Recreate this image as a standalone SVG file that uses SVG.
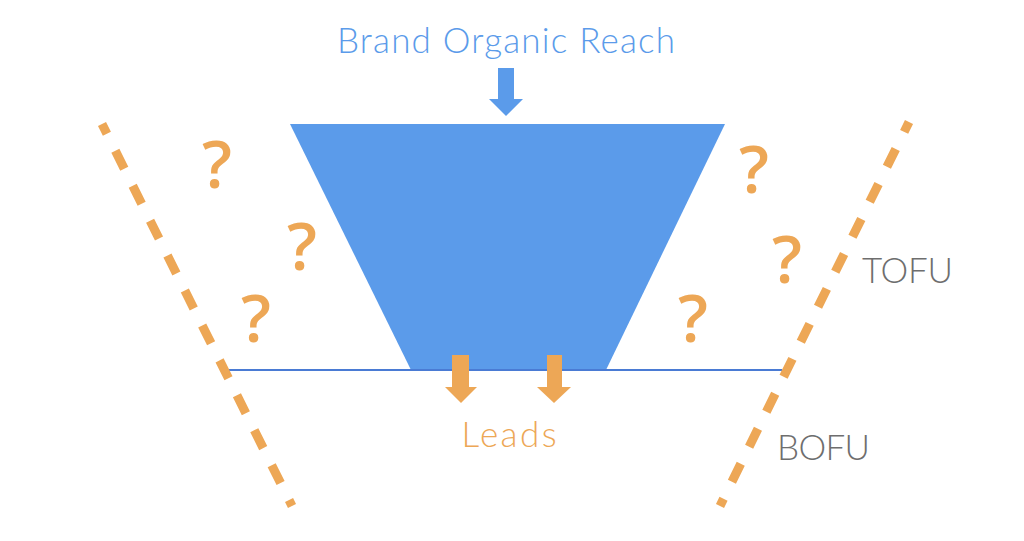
<svg xmlns="http://www.w3.org/2000/svg" width="1024" height="541" viewBox="0 0 1024 541">
<style>
.dash{stroke:#eda756;stroke-width:9;stroke-dasharray:20 19;fill:none}
.q{font-family:"Open Sans","Liberation Sans",sans-serif;font-size:66px;fill:#eda756;text-anchor:middle;font-weight:600}
.lab{font-family:"Lato","Liberation Sans",sans-serif;font-weight:300;font-size:35px}
.gray{fill:#6e6e6e}
</style>
<rect width="1024" height="541" fill="#ffffff"/>
<g id="funnel">
<polygon points="290,124 725,124 606,370 411,370" fill="#5b9bea"/>
</g>
<g id="connectors">
<line x1="229" y1="370" x2="782" y2="370" stroke="#4a7bd4" stroke-width="2"/>
<line class="dash" x1="102" y1="124" x2="292" y2="506" stroke-dashoffset="9"/>
<line class="dash" x1="909" y1="122" x2="720" y2="506" stroke-dashoffset="9"/>
<polygon points="498,68 514,68 514,99 523,99 506,116 489,99 498,99" fill="#5b9bea"/>
<polygon points="452,355 469,355 469,387 477,387 461,403 445,387 452,387" fill="#eda756"/>
<polygon points="547,355 562,355 562,387 571,387 554,403 537,387 547,387" fill="#eda756"/>
</g>
<g id="title"><text class="lab" x="506" y="53" text-anchor="middle" fill="#5b9bea" textLength="338">Brand Organic Reach</text></g>
<g id="leads"><text class="lab" x="509" y="447" text-anchor="middle" fill="#eda756" textLength="95">Leads</text></g>
<g id="tofu"><text class="lab gray" x="862" y="283" textLength="91">TOFU</text></g>
<g id="bofu"><text class="lab gray" x="777" y="460" textLength="93">BOFU</text></g>
<g id="questions">
<text class="q" x="217" y="188">?</text>
<text class="q" x="302" y="270">?</text>
<text class="q" x="256" y="342">?</text>
<text class="q" x="754" y="193">?</text>
<text class="q" x="787" y="283">?</text>
<text class="q" x="693" y="342">?</text>
</g>
</svg>
